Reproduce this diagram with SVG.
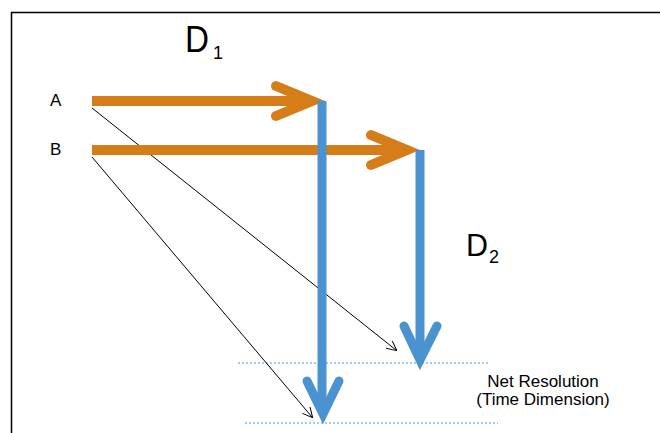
<svg xmlns="http://www.w3.org/2000/svg" width="660" height="433" viewBox="0 0 660 433">
<style>
.t{font-family:"Liberation Sans",Arial,sans-serif;fill:#000}
.or{stroke:#D57E19;stroke-width:10;fill:none;stroke-linecap:round;stroke-linejoin:miter}
.bl{stroke:#4A92D0;stroke-width:9;fill:none;stroke-linecap:round}
.thin{stroke:#000;stroke-width:1;fill:none}
.dash{stroke:#4A92D0;stroke-width:1;stroke-dasharray:2,2;fill:none}
</style>
<defs>
<marker id="open" viewBox="0 0 10 10" refX="9" refY="5" markerWidth="10" markerHeight="10" markerUnits="userSpaceOnUse" orient="auto">
<path d="M0,0 L10,5 L0,10" fill="none" stroke="#000" stroke-width="1"/>
</marker>
</defs>
<rect x="0" y="0" width="660" height="433" fill="#fff"/>
<path d="M11.5,433 V12.5 H660" fill="none" stroke="#000" stroke-width="1.5"/>
<g id="connectors">
<line class="dash" x1="238" y1="363" x2="488" y2="363"/>
<line class="dash" x1="245" y1="423" x2="498" y2="423"/>
<line class="thin" x1="92" y1="108" x2="396" y2="350" marker-end="url(#open)"/>
<line class="thin" x1="92" y1="157" x2="312" y2="417" marker-end="url(#open)"/>
</g>
<g id="arrowA">
<path d="M92,101 H310" stroke="#D57E19" stroke-width="10" fill="none"/>
<path class="or" d="M276,86 L312,101 L276,116"/>
</g>
<g id="arrowB">
<path d="M92,150 H405" stroke="#D57E19" stroke-width="10" fill="none"/>
<path class="or" d="M371,135 L407,150 L371,165"/>
</g>
<g id="d1arrow">
<path d="M322,101 V412" stroke="#4A92D0" stroke-width="9" fill="none"/>
<path class="bl" d="M307,381 L323,414 L339,381"/>
</g>
<g id="d2arrow">
<path d="M420,150 V358" stroke="#4A92D0" stroke-width="9" fill="none"/>
<path class="bl" d="M404,326 L420,360 L437,326"/>
</g>
<g id="labels">
<text class="t" x="50" y="106" font-size="17">A</text>
<text class="t" x="50" y="155" font-size="17">B</text>
<text class="t" x="185" y="52" font-size="36" textLength="24" lengthAdjust="spacingAndGlyphs">D</text>
<text class="t" x="213" y="59" font-size="18">1</text>
<text class="t" x="466" y="256" font-size="32" textLength="22" lengthAdjust="spacingAndGlyphs">D</text>
<text class="t" x="489" y="263" font-size="18">2</text>
<text class="t" x="543" y="387" font-size="17" text-anchor="middle">Net Resolution</text>
<text class="t" x="543" y="405" font-size="17" text-anchor="middle">(Time Dimension)</text>
</g>
</svg>
